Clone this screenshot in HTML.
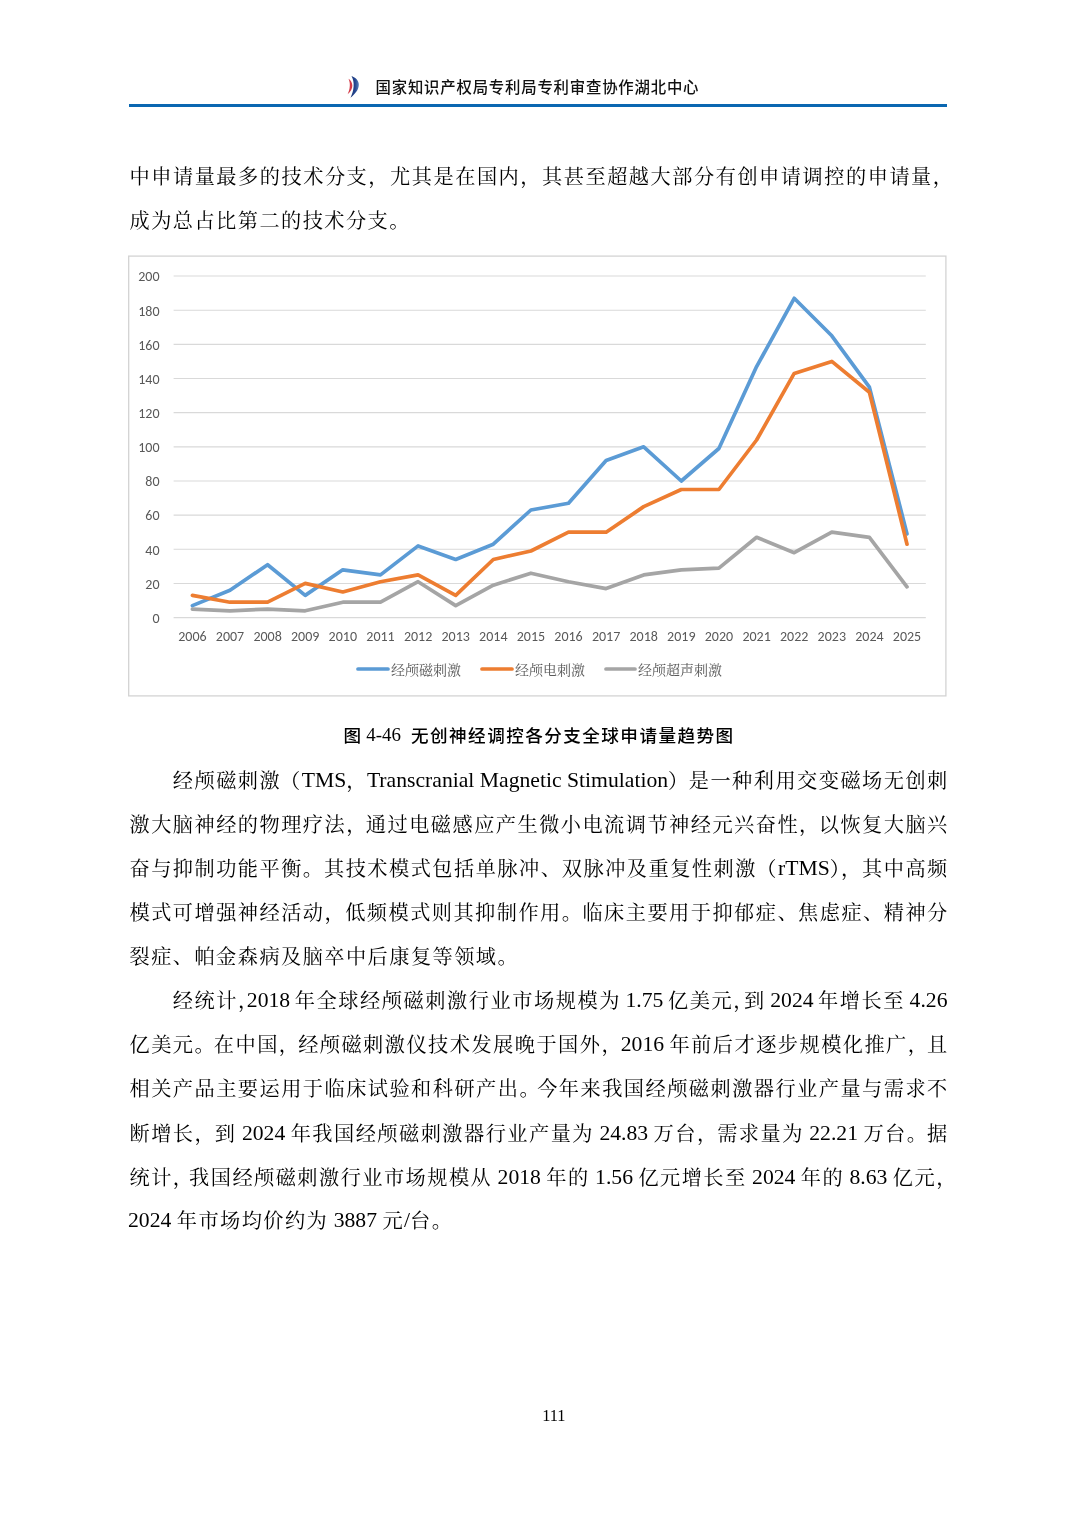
<!DOCTYPE html>
<html lang="zh-CN"><head><meta charset="utf-8"><title>page 111</title>
<style>
html,body{margin:0;padding:0;background:#fff;}
body{width:1074px;height:1520px;position:relative;overflow:hidden;}
.chart{position:absolute;left:0;top:0;}
.ax{font-family:"Carlito","Liberation Sans",sans-serif;font-size:14px;fill:#595959;}
.lg{font-family:"Liberation Serif","Noto Serif CJK SC",serif;font-size:14px;fill:#595959;}
.hdr{position:absolute;left:375.5px;top:78.2px;font-family:"Liberation Sans","Noto Sans CJK SC",sans-serif;font-size:15.4px;letter-spacing:0.8px;line-height:20px;color:#111;font-weight:500;white-space:nowrap;}
.rule{position:absolute;left:129px;top:104px;width:818px;height:3px;background:#0a67b1;}
.logo{position:absolute;left:0;top:0;}
.ln{position:absolute;font-family:"Liberation Serif","Noto Serif CJK SC",serif;font-size:20.2px;letter-spacing:1.46px;line-height:30px;color:#000;font-weight:400;white-space:nowrap;text-align:justify;text-align-last:justify;}
.ln .lat{font-size:21.66px;letter-spacing:0;position:relative;top:-0.8px;}
.ln.last{text-align-last:left;text-align:left;}
.cap{position:absolute;top:723px;line-height:24px;color:#000;white-space:pre;}
.cap.c{font-family:"Noto Sans CJK SC",sans-serif;font-size:17.6px;letter-spacing:1.44px;font-weight:500;}
.cap.l{font-family:"Liberation Serif",serif;font-size:18.95px;}
.pn{position:absolute;left:542.2px;top:1405px;font-family:"Liberation Serif",serif;font-size:16.4px;line-height:22px;color:#000;}
</style></head><body>
<svg class="logo" width="1074" height="120" viewBox="0 0 1074 120">
<path d="M348.5,78.8 C353.3,82 354.3,89 347.6,94.3 C350.2,89 350.6,83 348.5,78.8 Z" fill="#d43a47"/>
<defs><linearGradient id="lb" x1="0" y1="0" x2="1" y2="0"><stop offset="0" stop-color="#1b3779"/><stop offset="0.55" stop-color="#24458e"/><stop offset="1" stop-color="#5a82bd"/></linearGradient></defs>
<path d="M351.5,76 C360,79 363,88 350.5,97.7 C354,91 355,82 351.5,76 Z" fill="url(#lb)"/>
</svg>
<div class="hdr">国家知识产权局专利局专利审查协作湖北中心</div>
<div class="rule"></div>
<div class="ln" style="top:161.8px;left:129.5px;width:824.96px">中申请量最多的技术分支，尤其是在国内，其甚至超越大部分有创申请调控的申请量，</div>
<div class="ln last" style="top:205.8px;left:129.5px;width:816.80px">成为总占比第二的技术分支。</div>
<div class="ln" style="top:765.8px;left:172.8px;width:775.96px">经颅磁刺激<span style="margin-left:-1.10px">（</span><span class="lat">TMS</span><span style="margin-right:-1.10px">，</span><span class="lat">Transcranial Magnetic Stimulation</span><span style="margin-right:-1.10px">）</span>是一种利用交变磁场无创刺</div>
<div class="ln" style="top:809.8px;left:129.5px;width:819.26px">激大脑神经的物理疗法<span style="margin-right:-1.99px">，</span>通过电磁感应产生微小电流调节神经元兴奋性<span style="margin-right:-1.99px">，</span>以恢复大脑兴</div>
<div class="ln" style="top:853.8px;left:129.5px;width:819.26px">奋与抑制功能平衡<span style="margin-right:-0.48px">。</span>其技术模式包括单脉冲<span style="margin-right:-0.48px">、</span>双脉冲及重复性刺激<span style="margin-left:-0.48px">（</span><span class="lat">rTMS</span><span style="margin-right:-0.48px">）</span><span style="margin-right:-0.48px">，</span>其中高频</div>
<div class="ln" style="top:897.8px;left:129.5px;width:819.26px">模式可增强神经活动<span style="margin-right:-1.01px">，</span>低频模式则其抑制作用<span style="margin-right:-1.01px">。</span>临床主要用于抑郁症<span style="margin-right:-1.01px">、</span>焦虑症<span style="margin-right:-1.01px">、</span>精神分</div>
<div class="ln last" style="top:941.8px;left:129.5px;width:816.80px">裂症、帕金森病及脑卒中后康复等领域。</div>
<div class="ln" style="top:985.6px;left:172.8px;width:774.70px;word-spacing:-1.0px">经统计<span style="margin-right:-13.00px">，</span><span class="lat">2018 </span>年全球经颅磁刺激行业市场规模为<span class="lat"> 1.75 </span>亿美元<span style="margin-right:-11.00px">，</span>到<span class="lat"> 2024 </span>年增长至<span class="lat"> 4.26</span></div>
<div class="ln" style="top:1029.6px;left:129.5px;width:819.26px">亿美元<span style="margin-right:-2.37px">。</span>在中国<span style="margin-right:-2.37px">，</span>经颅磁刺激仪技术发展晚于国外<span style="margin-right:-2.37px">，</span><span class="lat">2016 </span>年前后才逐步规模化推广<span style="margin-right:-2.37px">，</span>且</div>
<div class="ln" style="top:1073.6px;left:129.5px;width:819.26px">相关产品主要运用于临床试验和科研产出<span style="margin-right:-3.98px">。</span>今年来我国经颅磁刺激器行业产量与需求不</div>
<div class="ln" style="top:1118.6px;left:129.5px;width:819.26px">断增长<span style="margin-right:-1.37px">，</span>到<span class="lat"> 2024 </span>年我国经颅磁刺激器行业产量为<span class="lat"> 24.83 </span>万台<span style="margin-right:-1.37px">，</span>需求量为<span class="lat"> 22.21 </span>万台<span style="margin-right:-1.37px">。</span>据</div>
<div class="ln" style="top:1162.6px;left:129.5px;width:828.30px">统计<span style="margin-right:-5.40px">，</span>我国经颅磁刺激行业市场规模从<span class="lat"> 2018 </span>年的<span class="lat"> 1.56 </span>亿元增长至<span class="lat"> 2024 </span>年的<span class="lat"> 8.63 </span>亿元<span style="margin-right:-0.01px">，</span></div>
<div class="ln last" style="top:1206.2px;left:128.0px;width:818.30px"><span class="lat">2024 </span>年市场均价约为<span class="lat"> 3887 </span>元<span class="lat">/</span>台。</div>
<svg class="chart" width="1074" height="1520" viewBox="0 0 1074 1520">
<rect x="128.7" y="256.1" width="817.2" height="439.8" fill="#fff" stroke="#d3d3d3" stroke-width="1.3"/>
<line x1="173.6" y1="617.60" x2="925.8" y2="617.60" stroke="#d9d9d9" stroke-width="1.1"/>
<text x="159.5" y="622.9" text-anchor="end" class="ax">0</text>
<line x1="173.6" y1="583.45" x2="925.8" y2="583.45" stroke="#d9d9d9" stroke-width="1.1"/>
<text x="159.5" y="588.7" text-anchor="end" class="ax">20</text>
<line x1="173.6" y1="549.29" x2="925.8" y2="549.29" stroke="#d9d9d9" stroke-width="1.1"/>
<text x="159.5" y="554.6" text-anchor="end" class="ax">40</text>
<line x1="173.6" y1="515.13" x2="925.8" y2="515.13" stroke="#d9d9d9" stroke-width="1.1"/>
<text x="159.5" y="520.4" text-anchor="end" class="ax">60</text>
<line x1="173.6" y1="480.98" x2="925.8" y2="480.98" stroke="#d9d9d9" stroke-width="1.1"/>
<text x="159.5" y="486.3" text-anchor="end" class="ax">80</text>
<line x1="173.6" y1="446.83" x2="925.8" y2="446.83" stroke="#d9d9d9" stroke-width="1.1"/>
<text x="159.5" y="452.1" text-anchor="end" class="ax">100</text>
<line x1="173.6" y1="412.67" x2="925.8" y2="412.67" stroke="#d9d9d9" stroke-width="1.1"/>
<text x="159.5" y="418.0" text-anchor="end" class="ax">120</text>
<line x1="173.6" y1="378.51" x2="925.8" y2="378.51" stroke="#d9d9d9" stroke-width="1.1"/>
<text x="159.5" y="383.8" text-anchor="end" class="ax">140</text>
<line x1="173.6" y1="344.36" x2="925.8" y2="344.36" stroke="#d9d9d9" stroke-width="1.1"/>
<text x="159.5" y="349.7" text-anchor="end" class="ax">160</text>
<line x1="173.6" y1="310.21" x2="925.8" y2="310.21" stroke="#d9d9d9" stroke-width="1.1"/>
<text x="159.5" y="315.5" text-anchor="end" class="ax">180</text>
<line x1="173.6" y1="276.05" x2="925.8" y2="276.05" stroke="#d9d9d9" stroke-width="1.1"/>
<text x="159.5" y="281.4" text-anchor="end" class="ax">200</text>
<text x="192.4" y="641" text-anchor="middle" class="ax">2006</text>
<text x="230.0" y="641" text-anchor="middle" class="ax">2007</text>
<text x="267.6" y="641" text-anchor="middle" class="ax">2008</text>
<text x="305.2" y="641" text-anchor="middle" class="ax">2009</text>
<text x="342.8" y="641" text-anchor="middle" class="ax">2010</text>
<text x="380.5" y="641" text-anchor="middle" class="ax">2011</text>
<text x="418.1" y="641" text-anchor="middle" class="ax">2012</text>
<text x="455.7" y="641" text-anchor="middle" class="ax">2013</text>
<text x="493.3" y="641" text-anchor="middle" class="ax">2014</text>
<text x="530.9" y="641" text-anchor="middle" class="ax">2015</text>
<text x="568.5" y="641" text-anchor="middle" class="ax">2016</text>
<text x="606.1" y="641" text-anchor="middle" class="ax">2017</text>
<text x="643.7" y="641" text-anchor="middle" class="ax">2018</text>
<text x="681.3" y="641" text-anchor="middle" class="ax">2019</text>
<text x="718.9" y="641" text-anchor="middle" class="ax">2020</text>
<text x="756.6" y="641" text-anchor="middle" class="ax">2021</text>
<text x="794.2" y="641" text-anchor="middle" class="ax">2022</text>
<text x="831.8" y="641" text-anchor="middle" class="ax">2023</text>
<text x="869.4" y="641" text-anchor="middle" class="ax">2024</text>
<text x="907.0" y="641" text-anchor="middle" class="ax">2025</text>
<polyline points="192.4,605.6 230.0,590.3 267.6,564.7 305.2,595.4 342.8,569.8 380.5,574.9 418.1,545.9 455.7,559.5 493.3,544.2 530.9,510.0 568.5,503.2 606.1,460.5 643.7,446.8 681.3,481.0 718.9,448.5 756.6,366.6 794.2,298.3 831.8,335.8 869.4,387.1 907.0,533.9" fill="none" stroke="#5b9bd5" stroke-width="3.7" stroke-linejoin="round" stroke-linecap="round"/>
<polyline points="192.4,595.4 230.0,602.2 267.6,602.2 305.2,583.4 342.8,592.0 380.5,581.7 418.1,574.9 455.7,595.4 493.3,559.5 530.9,551.0 568.5,532.2 606.1,532.2 643.7,506.6 681.3,489.5 718.9,489.5 756.6,440.0 794.2,373.4 831.8,361.4 869.4,392.2 907.0,544.2" fill="none" stroke="#ed7d31" stroke-width="3.7" stroke-linejoin="round" stroke-linecap="round"/>
<polyline points="192.4,609.1 230.0,610.8 267.6,609.1 305.2,610.8 342.8,602.2 380.5,602.2 418.1,581.7 455.7,605.6 493.3,585.2 530.9,573.2 568.5,581.7 606.1,588.6 643.7,574.9 681.3,569.8 718.9,568.1 756.6,537.3 794.2,552.7 831.8,532.2 869.4,537.3 907.0,586.9" fill="none" stroke="#a5a5a5" stroke-width="3.7" stroke-linejoin="round" stroke-linecap="round"/>
<line x1="358" y1="669" x2="388" y2="669" stroke="#5b9bd5" stroke-width="3.7" stroke-linecap="round"/>
<text x="391" y="674.5" class="lg">经颅磁刺激</text>
<line x1="482" y1="669" x2="512" y2="669" stroke="#ed7d31" stroke-width="3.7" stroke-linecap="round"/>
<text x="515" y="674.5" class="lg">经颅电刺激</text>
<line x1="606" y1="669" x2="635" y2="669" stroke="#a5a5a5" stroke-width="3.7" stroke-linecap="round"/>
<text x="638" y="674.5" class="lg">经颅超声刺激</text>
</svg>
<div class="cap c" style="left:343.5px">图</div><div class="cap l" style="left:366.3px">4-46</div><div class="cap c" style="left:411px">无创神经调控各分支全球申请量趋势图</div>
<div class="pn">111</div>
</body></html>
